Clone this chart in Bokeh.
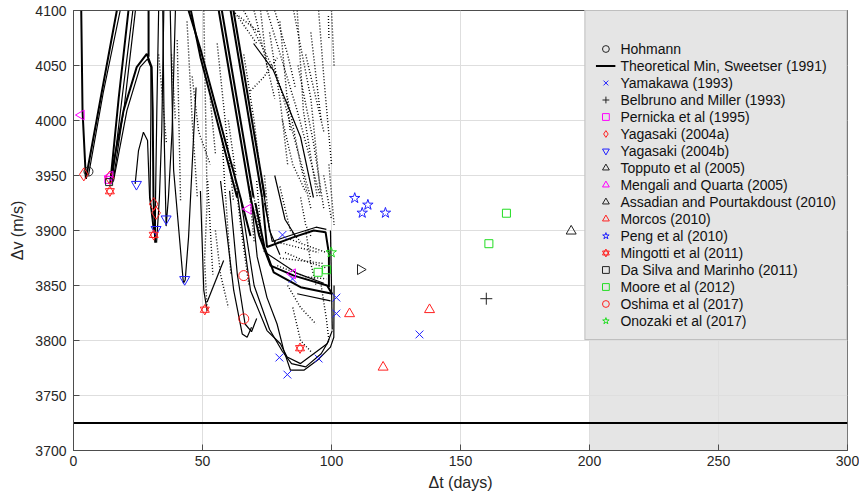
from bokeh.plotting import figure
from bokeh.models import BoxAnnotation, Legend, LegendItem, FixedTicker, Range1d
from bokeh.embed import file_html
from bokeh.resources import INLINE
import math

FONT = "Liberation Sans"

# ---------------- axes ----------------
x_limits = [0, 300]
y_limits = [3700, 4100]
x_ticks = [0, 50, 100, 150, 200, 250, 300]
y_ticks = [3700, 3750, 3800, 3850, 3900, 3950, 4000, 4050, 4100]
shaded_interval = [200, 300]
theoretical_min_dv = 3725

# ---------------- literature points (days, m/s) ----------------
hohmann_t = [5.8]
hohmann_dv = [3953.6]
yamakawa_t = [81.0, 84.9, 101.9, 101.9, 79.8, 82.9, 95.0, 134.1]
yamakawa_dv = [3896, 3856, 3839, 3824.5, 3784.5, 3769, 3783.6, 3805.5]
belbruno_t = [160.0]
belbruno_dv = [3838]
pernicka_t = [13.5]
pernicka_dv = [3946]
yagasaki_a_t = [4.0, 14.0, 31.1, 32.0]
yagasaki_a_dv = [3951, 3948, 3924, 3916]
yagasaki_b_t = [24.4, 35.9, 32.0, 43.1]
yagasaki_b_dv = [3942, 3910.6, 3901, 3855.5]
topputo_t = [192.9]
topputo_dv = [3899.4]
mengali_t = [3.0, 14.1, 67.7, 84.9]
mengali_dv = [4005, 3949.4, 3919.5, 3860.6]
assadian_t = [111.2]
assadian_dv = [3864.5]
morcos_t = [107.0, 138.0, 120.0]
morcos_dv = [3824.3, 3828, 3775.7]
peng_t = [109.0, 114.1, 111.9, 120.9]
peng_dv = [3929.4, 3923.3, 3916, 3916]
mingotti_t = [14.1, 31.1, 50.9, 87.8]
mingotti_dv = [3935.7, 3896, 3828, 3793]
dasilva_t = [13.8]
dasilva_dv = [3944]
moore_t = [167.8, 161.0, 94.8, 98.1]
moore_dv = [3915.7, 3888, 3862, 3864.3]
oshima_t = [66.0, 66.0]
oshima_dv = [3859, 3819.7]
onozaki_t = [99.9]
onozaki_dv = [3880]

# ---------------- traced solution families (days, m/s) ----------------
fam_v1_left = [(3.0, 4100), (3.5, 4009), (4.8, 3947)]
fam_v1_right_a = [(4.8, 3947), (10.5, 4020), (16.8, 4100)]
fam_v1_right_b = [(5.8, 3950), (11.5, 4025), (18.1, 4100)]
fam_v2_a = [(14.2, 3942), (17.5, 4020), (21.3, 4100)]
fam_v2_b = [(14.8, 3942), (18.8, 4020), (23.0, 4100)]
fam_v2_c = [(15.3, 3944), (19.8, 4015), (24.0, 4100)]
fam_arch_outer = [(14.5, 3949), (19.4, 4009), (24.5, 4048.5), (28.4, 4060.6), (30.3, 4048.5),
                  (30.7, 4009), (31.0, 3930), (31.7, 3889)]
fam_arch_inner = [(15.5, 3945), (20.7, 4009), (25.8, 4048.5), (28.7, 4056), (30.0, 4048.5),
                  (30.0, 4009), (29.7, 3930), (31.5, 3895)]
fam_arch_small = [(23.9, 3942.4), (25.2, 3972.7), (27.1, 3989.4), (28.7, 3981.8), (29.5, 3930), (31.0, 3900)]
fam_vert29 = [(29.1, 4100), (29.1, 4058)]
fam_f32_left = [(33.0, 4100), (32.3, 4009), (31.8, 3930), (31.7, 3889)]
fam_f32_right = [(32.2, 3889), (33.3, 3930), (34.2, 3990), (35.0, 4100)]
fam_f36 = [(34.6, 4100), (35.2, 3980), (35.9, 3904), (36.8, 3930), (38.2, 3990), (39.5, 4100)]
fam_f43 = [(37.5, 4100), (38.8, 3955), (42.6, 3852), (43.3, 3855), (44.6, 3894), (45.9, 3955), (47.5, 4030)]
fam_d1 = [(44.6, 4100), (49.2, 4065), (64.7, 3930), (68.6, 3895)]
fam_d2 = [(45.5, 4100), (49.2, 4057.6), (63.4, 3930)]
fam_d3 = [(56.3, 4100), (68.6, 3930)]
fam_d3b = [(57.5, 4100), (69.8, 3930)]
fam_d4 = [(60.9, 4100), (73.1, 3930)]
fam_d4b = [(62.0, 4100), (74.2, 3930)]
fam_loop_upper = [(73.1, 3930), (75.0, 3885), (85.4, 3894), (93.1, 3900), (97.7, 3898.5), (99.0, 3879), (99.0, 3848.5)]
fam_loop_upper2 = [(74.0, 3925), (77.0, 3890), (86.0, 3897), (94.0, 3903), (98.0, 3901)]
fam_loop_lower = [(68.6, 3930), (72.0, 3895), (76.4, 3868), (85.4, 3859), (98.3, 3850), (100.3, 3842)]
fam_loop_lower2 = [(70.5, 3925), (74.0, 3885), (77.6, 3862), (88.0, 3848.5), (100.3, 3842.5)]
fam_loop_cross = [(75.0, 3879), (86.7, 3861), (97.0, 3852)]
fam_loop_right = [(99.6, 3900), (100.3, 3810)]
fam_loop_inner = [(86.7, 3842.5), (99.6, 3836)]
fam_bottom1 = [(68.6, 3936), (71.2, 3876), (75.0, 3839), (78.9, 3815), (81.5, 3791), (84.1, 3773),
               (89.3, 3773), (94.5, 3782), (99.6, 3794), (100.9, 3803), (101.0, 3850)]
fam_bottom2 = [(63.4, 3936), (68.6, 3845.5), (75.0, 3809), (80.2, 3797), (82.8, 3785), (88.0, 3779),
               (98.3, 3797), (100.3, 3809)]
fam_bottom3 = [(64.7, 3930), (70.0, 3850), (76.0, 3810), (81.0, 3790), (84.5, 3779), (90.0, 3776),
               (96.0, 3788), (99.0, 3800)]
fam_u1 = [(57.0, 3945), (62.1, 3845.5), (65.4, 3806), (67.3, 3803), (69.0, 3812)]
fam_u2 = [(60.5, 3936), (63.5, 3860), (66.5, 3815), (69.0, 3808), (71.0, 3820)]
fam_u0 = [(49.2, 3936), (50.5, 3845.5), (51.8, 3827)]
fam_mingotti_tail = [(51.8, 3835), (58.2, 3872.7)]
fam_mid_a = [(69.8, 4070), (77.5, 4045.5), (88.0, 3985), (93.0, 3930)]
fam_mid_b = [(73.0, 3945), (76.0, 3900), (80.0, 3878)]
fam_mid_c = [(78.0, 3950), (82.0, 3910), (86.0, 3895)]

# sparse dotted streaks of the scanned solutions
streak_01 = [(40.2, 4073), (41.5, 3927)]
streak_02 = [(50.5, 4100), (51.8, 3927), (50.8, 3873), (51.8, 3827)]
streak_03 = [(55.7, 4070), (62.0, 3927)]
streak_04 = [(66.0, 4100), (79.0, 4040), (91.9, 3930)]
streak_05 = [(75.0, 4100), (86.7, 4009), (95.7, 3930)]
streak_06 = [(86.7, 4100), (89.1, 4009), (94.5, 3930)]
streak_07 = [(85.3, 4100), (92.0, 4020), (95.7, 3934)]
streak_08 = [(68.6, 4027), (73.6, 4039), (79.0, 4057)]
streak_09 = [(57.6, 3984), (58.9, 3930)]
streak_10 = [(98.8, 4095), (99.0, 4075)]
streak_11 = [(72.5, 4100), (75.0, 4048)]
streak_12 = [(78.0, 3890), (95.0, 3880)]
streak_13 = [(80.0, 3875), (97.0, 3870)]
streak_14 = [(62.0, 3960), (65.0, 3900), (68.0, 3850)]
streak_15 = [(99.0, 3960), (101.0, 3905)]
streak_16 = [(90.0, 4060), (97.0, 3990)]
streak_17 = [(44.0, 4090), (46.0, 4000), (48.0, 3930)]
streak_18 = [(33.0, 4060), (36.0, 3980)]
streak_19 = [(62.0, 4100), (71.0, 4070)]
streak_20 = [(64.0, 4095), (72.0, 4080)]
streak_21 = [(95.0, 4100), (97.0, 4040), (100.0, 3960)]
streak_22 = [(80.0, 3940), (84.0, 3900), (88.0, 3890)]
streak_23 = [(70.0, 3930), (72.0, 3900), (74.0, 3880)]
streak_24 = [(88.0, 3930), (90.0, 3905), (92.0, 3895)]
streak_25 = [(55.0, 3900), (57.0, 3860), (60.0, 3830)]
streak_26 = [(92.0, 4080), (96.0, 4000)]
streak_27 = [(100.0, 4100), (101.0, 4050)]
streak_28 = [(71.0, 3945), (73.0, 3890)]
streak_29 = [(52.0, 3945), (54.0, 3860)]
streak_30 = [(59.0, 3930), (61.0, 3860)]
streak_31 = [(82.0, 3880), (90.0, 3872), (98.0, 3866)]
streak_32 = [(78.0, 4100), (83.0, 4060), (86.0, 4030)]
streak_33 = [(81.0, 4000), (85.0, 3960), (90.0, 3935)]
streak_34 = [(66.0, 4060), (70.0, 4000), (72.0, 3960)]
streak_35 = [(46.0, 4040), (48.5, 3990), (53.0, 3960)]
streak_36 = [(83.0, 3850), (88.0, 3830), (94.0, 3815)]
streak_37 = [(38.0, 4060), (39.5, 4000)]
streak_38 = [(97.0, 3950), (100.0, 3910)]
streak_39 = [(68.0, 3940), (70.0, 3890)]
streak_40 = [(74.0, 3950), (76.0, 3900)]
streak_41 = [(83.0, 4020), (88.0, 3960), (92.0, 3920)]
streak_42 = [(87.0, 4050), (93.0, 3980), (97.0, 3920)]
streak_43 = [(80.0, 4090), (82.0, 4040), (84.0, 3990)]
streak_44 = [(76.0, 4080), (80.0, 4020), (83.0, 3960)]
streak_45 = [(84.0, 3892), (92.0, 3885), (98.0, 3880)]
streak_46 = [(79.0, 3868), (90.0, 3858), (98.0, 3856)]
streak_47 = [(90.0, 3900), (92.0, 3870), (94.0, 3850)]
streak_48 = [(60.0, 4000), (63.0, 3950)]
streak_49 = [(53.0, 4020), (55.0, 3970)]
streak_50 = [(70.0, 4100), (74.0, 4060), (78.0, 4020)]
streak_51 = [(96.0, 3850), (98.0, 3820), (99.0, 3800)]
streak_52 = [(85.0, 3830), (88.0, 3800), (92.0, 3790)]

thick_curves = [fam_v1_left, fam_v1_right_a, fam_v2_a, fam_arch_outer, fam_vert29, fam_d1, fam_d2,
                fam_d3, fam_d3b, fam_d4, fam_d4b, fam_loop_upper, fam_loop_lower, fam_loop_lower2]
thin_curves = [fam_v1_right_b, fam_v2_b, fam_v2_c, fam_arch_inner, fam_arch_small, fam_f32_left,
               fam_f32_right, fam_f36, fam_f43, fam_loop_upper2, fam_loop_cross, fam_loop_right,
               fam_loop_inner, fam_bottom1, fam_bottom2, fam_bottom3, fam_u1, fam_u2, fam_u0,
               fam_mingotti_tail, fam_mid_a, fam_mid_b, fam_mid_c]
dotted_curves = [streak_01, streak_02, streak_03, streak_04, streak_05, streak_06, streak_07, streak_08,
                 streak_09, streak_10, streak_11, streak_12, streak_13, streak_14, streak_15, streak_16,
                 streak_17, streak_18, streak_19, streak_20, streak_21, streak_22, streak_23, streak_24,
                 streak_25, streak_26, streak_27, streak_28, streak_29, streak_30, streak_31, streak_32,
                 streak_33, streak_34, streak_35, streak_36, streak_37, streak_38, streak_39, streak_40,
                 streak_41, streak_42, streak_43, streak_44, streak_45, streak_46, streak_47, streak_48,
                 streak_49, streak_50, streak_51, streak_52]


def xs_of(curves):
    return [[pt[0] for pt in c] for c in curves]


def ys_of(curves):
    return [[pt[1] for pt in c] for c in curves]


p = figure(width=859, height=500, output_backend="svg", toolbar_location=None,
           x_range=Range1d(*x_limits), y_range=Range1d(*y_limits),
           min_border_left=73, min_border_right=12, min_border_top=10, min_border_bottom=50)
p.background_fill_color = "white"
p.border_fill_color = "white"
p.outline_line_color = "#4d4d4d"
p.outline_line_width = 1

shade = BoxAnnotation(left=shaded_interval[0], right=shaded_interval[1], fill_color="#e5e5e5",
                      fill_alpha=1.0, line_color="#9a9a9a", line_width=1, level="image")
p.add_layout(shade)

for g in (p.xgrid, p.ygrid):
    g.grid_line_color = "#dedede"
    g.grid_line_width = 1
p.xgrid.ticker = FixedTicker(ticks=x_ticks)
p.ygrid.ticker = FixedTicker(ticks=y_ticks)

for ax in (p.xaxis, p.yaxis):
    ax.axis_line_color = "#4d4d4d"
    ax.major_tick_line_color = "#4d4d4d"
    ax.major_tick_in = 6
    ax.major_tick_out = 0
    ax.minor_tick_line_color = None
    ax.major_label_text_font = FONT
    ax.major_label_text_font_size = "14px"
    ax.major_label_text_color = "#262626"
    ax.axis_label_text_font = FONT
    ax.axis_label_text_font_size = "16px"
    ax.axis_label_text_font_style = "normal"
    ax.axis_label_text_color = "#262626"
p.xaxis.ticker = FixedTicker(ticks=x_ticks)
p.yaxis.ticker = FixedTicker(ticks=y_ticks)
p.xaxis.axis_label = "Δt (days)"
p.yaxis.axis_label = "Δv (m/s)"
p.xaxis.major_label_standoff = 5
p.yaxis.major_label_standoff = 7
p.xaxis.axis_label_standoff = 5
p.yaxis.axis_label_standoff = 6

# solution families
p.multi_line(xs_of(dotted_curves), ys_of(dotted_curves), line_color="black", line_width=1.4,
             line_dash="1 2")
p.multi_line(xs_of(thin_curves), ys_of(thin_curves), line_color="black", line_width=1.2)
p.multi_line(xs_of(thick_curves), ys_of(thick_curves), line_color="black", line_width=2.0)

r_min = p.line(x_limits, [theoretical_min_dv, theoretical_min_dv], line_color="black", line_width=2)

S = 10
r_hoh = p.scatter(hohmann_t, hohmann_dv, marker="circle", size=S - 1, fill_color=None, line_color="#222222")
r_yam = p.scatter(yamakawa_t, yamakawa_dv, marker="x", size=S + 1, line_color="#2020ff", line_width=1)
r_bel = p.scatter(belbruno_t, belbruno_dv, marker="cross", size=S + 2, line_color="#222222", line_width=1)
r_per = p.scatter(pernicka_t, pernicka_dv, marker="square", size=S - 3, fill_color=None, line_color="#ff00ff")
r_yga = p.scatter(yagasaki_a_t, yagasaki_a_dv, marker="diamond", size=S + 3,
                  fill_color=None, line_color="#ff2020")
r_ygb = p.scatter(yagasaki_b_t, yagasaki_b_dv, marker="inverted_triangle", size=S, fill_color=None,
                  line_color="#2020ff")
r_top = p.scatter(topputo_t, topputo_dv, marker="triangle", size=S, fill_color=None, line_color="#222222")
r_men = p.scatter(mengali_t, mengali_dv, marker="triangle", angle=math.pi / 2, size=S, fill_color=None,
                  line_color="#ff00ff")
r_ass = p.scatter(assadian_t, assadian_dv, marker="triangle", angle=-math.pi / 2, size=S,
                  fill_color=None, line_color="#222222")
r_mor = p.scatter(morcos_t, morcos_dv, marker="triangle", size=S, fill_color=None, line_color="#ff2020")
r_pen = p.scatter(peng_t, peng_dv, marker="star", size=S + 1, fill_color=None, line_color="#2020ff")
r_min1 = p.scatter(mingotti_t, mingotti_dv, marker="triangle", size=S - 1, fill_color=None, line_color="#ff2020")
r_min2 = p.scatter(mingotti_t, mingotti_dv, marker="inverted_triangle", size=S - 1, fill_color=None,
                   line_color="#ff2020")
r_das = p.scatter(dasilva_t, dasilva_dv, marker="square", size=S - 3, fill_color=None, line_color="#222222")
r_moo = p.scatter(moore_t, moore_dv, marker="square", size=S - 2, fill_color=None, line_color="#22dd22")
r_osh = p.scatter(oshima_t, oshima_dv, marker="circle", size=S, fill_color=None, line_color="#ff2020")
r_ono = p.scatter(onozaki_t, onozaki_dv, marker="star", size=S + 1, fill_color=None, line_color="#22dd22")

items = [
    LegendItem(label="Hohmann", renderers=[r_hoh]),
    LegendItem(label="Theoretical Min, Sweetser (1991)", renderers=[r_min]),
    LegendItem(label="Yamakawa (1993)", renderers=[r_yam]),
    LegendItem(label="Belbruno and Miller (1993)", renderers=[r_bel]),
    LegendItem(label="Pernicka et al (1995)", renderers=[r_per]),
    LegendItem(label="Yagasaki (2004a)", renderers=[r_yga]),
    LegendItem(label="Yagasaki (2004b)", renderers=[r_ygb]),
    LegendItem(label="Topputo et al (2005)", renderers=[r_top]),
    LegendItem(label="Mengali and Quarta (2005)", renderers=[r_men]),
    LegendItem(label="Assadian and Pourtakdoust (2010)", renderers=[r_ass]),
    LegendItem(label="Morcos (2010)", renderers=[r_mor]),
    LegendItem(label="Peng et al (2010)", renderers=[r_pen]),
    LegendItem(label="Mingotti et al (2011)", renderers=[r_min1, r_min2]),
    LegendItem(label="Da Silva and Marinho (2011)", renderers=[r_das]),
    LegendItem(label="Moore et al (2012)", renderers=[r_moo]),
    LegendItem(label="Oshima et al (2017)", renderers=[r_osh]),
    LegendItem(label="Onozaki et al (2017)", renderers=[r_ono]),
]
legend = Legend(items=items, location="top_right", margin=0, padding=10, spacing=0,
                label_height=17, glyph_height=17, glyph_width=20, label_standoff=5, label_width=214,
                title=" ", title_text_font_size="14px", title_standoff=3,
                background_fill_color="#e5e5e5", background_fill_alpha=1.0,
                border_line_color="#9a9a9a", border_line_width=1,
                label_text_font=FONT, label_text_font_size="14px", label_text_color="#111111")
p.add_layout(legend)

open("out.html", "w").write(file_html(p, INLINE))
